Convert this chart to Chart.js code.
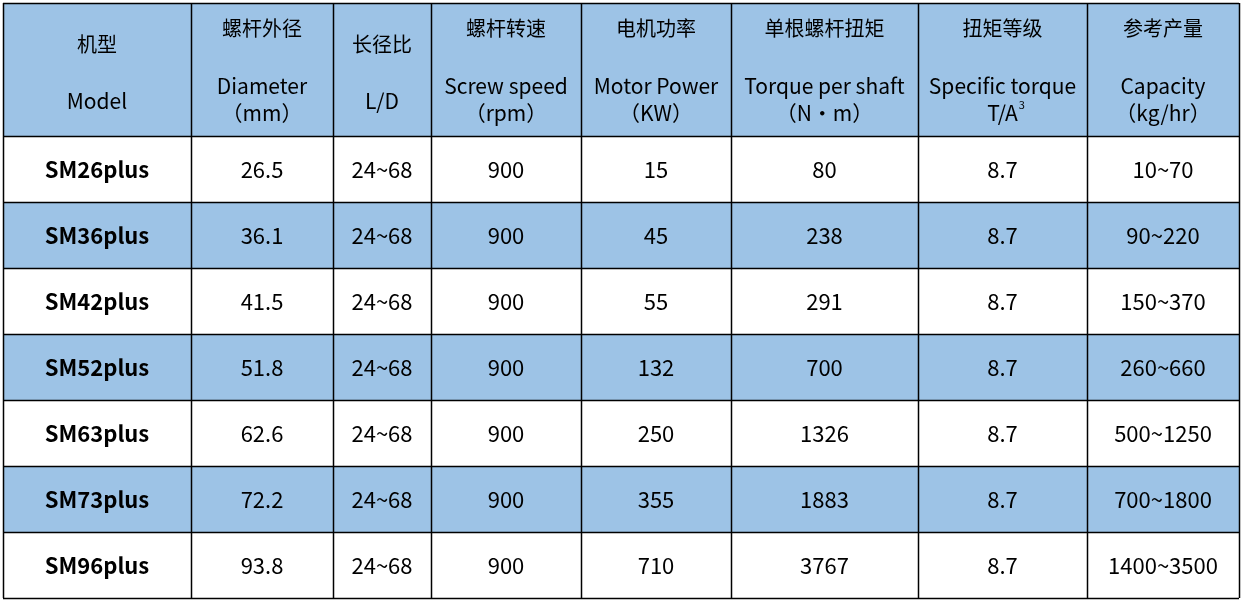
<!DOCTYPE html>
<html><head><meta charset="utf-8">
<script src="https://cdn.jsdelivr.net/npm/chart.js@4"></script>
<style>html,body{margin:0;padding:0;background:#fff}canvas{display:block}</style>
</head><body>
<canvas id="tbl" width="1241" height="600"></canvas>
<script>
// table content
const models = ['SM26plus', 'SM36plus', 'SM42plus', 'SM52plus', 'SM63plus', 'SM73plus', 'SM96plus'];
const diameters = ['26.5', '36.1', '41.5', '51.8', '62.6', '72.2', '93.8'];
const ldRatios = ['24~68', '24~68', '24~68', '24~68', '24~68', '24~68', '24~68'];
const speeds = ['900', '900', '900', '900', '900', '900', '900'];
const powers = ['15', '45', '55', '132', '250', '355', '710'];
const torques = ['80', '238', '291', '700', '1326', '1883', '3767'];
const specTorques = ['8.7', '8.7', '8.7', '8.7', '8.7', '8.7', '8.7'];
const capacities = ['10~70', '90~220', '150~370', '260~660', '500~1250', '700~1800', '1400~3500'];
const headZh = ['机型', '螺杆外径', '长径比', '螺杆转速', '电机功率', '单根螺杆扭矩', '扭矩等级', '参考产量'];
const headEn = ['Model', 'Diameter', 'L/D', 'Screw speed', 'Motor Power', 'Torque per shaft', 'Specific torque', 'Capacity'];
const headUnit = ['', '（mm）', '', '（rpm）', '（KW）', '（N·m）', 'T/A', '（kg/hr）'];

const columns = [models, diameters, ldRatios, speeds, powers, torques, specTorques, capacities];

// layout (in scale units)
const colEdges = [3, 191, 333, 431, 581, 731, 918, 1087, 1239];
const rowEdges = [3, 136, 202, 268, 334, 400, 466, 532, 598];
const HEAD_BG = '#9dc3e6';
const CJK = '"Noto Sans CJK SC", "Noto Sans", sans-serif';

const tablePlugin = {
  id: 'table',
  afterDraw(chart) {
    const { ctx, scales: { x, y } } = chart;
    const px = v => x.getPixelForValue(v), py = v => y.getPixelForValue(v);
    ctx.save();
    // backgrounds
    ctx.fillStyle = HEAD_BG;
    ctx.fillRect(px(colEdges[0]), py(rowEdges[0]), px(colEdges[8]) - px(colEdges[0]), py(rowEdges[1]) - py(rowEdges[0]));
    for (let r = 0; r < models.length; r++) {
      if (r % 2 === 1) ctx.fillRect(px(colEdges[0]), py(rowEdges[r + 1]), px(colEdges[8]) - px(colEdges[0]), py(rowEdges[r + 2]) - py(rowEdges[r + 1]));
    }
    // header text
    ctx.fillStyle = '#000';
    ctx.textAlign = 'center';
    ctx.textBaseline = 'middle';
    headZh.forEach((t, c) => {
      const cx = (px(colEdges[c]) + px(colEdges[c + 1])) / 2;
      const twoLine = headUnit[c] === '';
      ctx.font = '20px ' + CJK;
      ctx.fillText(t, cx, py(twoLine ? 44 : 28));
      ctx.font = '21px ' + CJK;
      ctx.fillText(headEn[c], cx, py(twoLine ? 101 : 86));
      if (!twoLine) {
        ctx.fillText(headUnit[c], cx, py(113));
        if (c === 6) {
          const w = ctx.measureText(headUnit[c]).width;
          ctx.font = '11px ' + CJK;
          ctx.fillText('3', cx + w / 2 + 4, py(105));
        }
      }
    });
    // body text
    columns.forEach((col, c) => {
      const cx = (px(colEdges[c]) + px(colEdges[c + 1])) / 2;
      ctx.font = (c === 0 ? 'bold 22px ' : '22px ') + CJK;
      col.forEach((v, r) => {
        ctx.fillText(v, cx, py((rowEdges[r + 1] + rowEdges[r + 2]) / 2 + 1));
      });
    });
    // grid
    ctx.strokeStyle = '#000';
    ctx.lineWidth = 1.5;
    ctx.beginPath();
    colEdges.forEach(e => { ctx.moveTo(Math.round(px(e)) + 0.5, py(rowEdges[0])); ctx.lineTo(Math.round(px(e)) + 0.5, py(rowEdges[8])); });
    rowEdges.forEach(e => { ctx.moveTo(px(colEdges[0]), Math.round(py(e)) + 0.5); ctx.lineTo(px(colEdges[8]), Math.round(py(e)) + 0.5); });
    ctx.stroke();
    ctx.restore();
  }
};

new Chart(document.getElementById('tbl'), {
  type: 'scatter',
  data: { datasets: [{ data: [] }] },
  options: {
    responsive: false, animation: false,
    layout: { padding: 0 },
    plugins: { legend: { display: false }, tooltip: { enabled: false } },
    scales: {
      x: { type: 'linear', min: 0, max: 1241, display: false },
      y: { type: 'linear', min: 0, max: 600, reverse: true, display: false }
    }
  },
  plugins: [tablePlugin]
});
</script>
</body></html>
